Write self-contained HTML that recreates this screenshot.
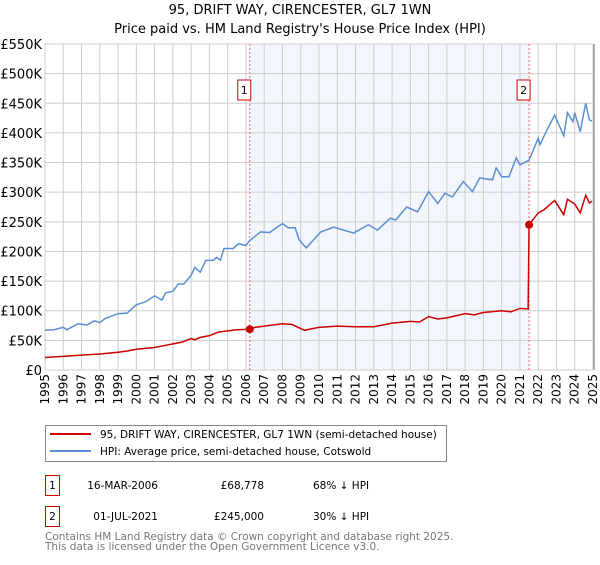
<!DOCTYPE html>
<html><head><meta charset="utf-8"><style>
body{margin:0;background:#fff;font-family:"Liberation Sans","DejaVu Sans",sans-serif;}
svg text{font-family:"DejaVu Sans","Liberation Sans",sans-serif;}
</style></head><body>
<svg id="c" width="600" height="560" viewBox="0 0 600 560">
<text x="300" y="14" text-anchor="middle" font-size="13">95, DRIFT WAY, CIRENCESTER, GL7 1WN</text>
<text x="300" y="33" text-anchor="middle" font-size="13">Price paid vs. HM Land Registry's House Price Index (HPI)</text>
<g id="plot"></g>
<g>
<rect x="45.5" y="425.5" width="401" height="36" fill="#fff" stroke="#888"/>
<line x1="50" y1="434" x2="91" y2="434" stroke="#cc0000" stroke-width="2"/>
<text x="100" y="438" font-size="10.5">95, DRIFT WAY, CIRENCESTER, GL7 1WN (semi-detached house)</text>
<line x1="50" y1="451" x2="91" y2="451" stroke="#5b8fd0" stroke-width="2"/>
<text x="100" y="455" font-size="10.5">HPI: Average price, semi-detached house, Cotswold</text>
</g>
<g font-size="10.5">
<rect x="45.5" y="475.5" width="14" height="20" fill="#fff" stroke="#cc0000"/>
<text x="52.5" y="489" text-anchor="middle">1</text>
<text x="158" y="489" text-anchor="end">16-MAR-2006</text>
<text x="264" y="489" text-anchor="end">£68,778</text>
<text x="313" y="489">68% ↓ HPI</text>
<rect x="45.5" y="506.5" width="14" height="20" fill="#fff" stroke="#cc0000"/>
<text x="52.5" y="520" text-anchor="middle">2</text>
<text x="158" y="520" text-anchor="end">01-JUL-2021</text>
<text x="264" y="520" text-anchor="end">£245,000</text>
<text x="313" y="520">30% ↓ HPI</text>
</g>
<text x="45" y="540" font-size="10.5" fill="#777">Contains HM Land Registry data © Crown copyright and database right 2025.</text>
<text x="45" y="550" font-size="10.5" fill="#777">This data is licensed under the Open Government Licence v3.0.</text>
</svg>
<script>
const hpiYears=[1995,1995.5,1996,1996.2,1996.8,1997.3,1997.7,1998,1998.3,1999,1999.5,2000,2000.5,2001,2001.4,2001.6,2002,2002.3,2002.6,2003,2003.2,2003.5,2003.8,2004.2,2004.4,2004.6,2004.8,2005.3,2005.6,2006,2006.2,2006.8,2007.3,2007.8,2008,2008.3,2008.7,2008.9,2009.3,2010.1,2010.8,2011.9,2012.7,2013.2,2013.9,2014.2,2014.8,2015.4,2016,2016.5,2016.9,2017.3,2017.9,2018.4,2018.8,2019.5,2019.7,2020,2020.4,2020.8,2021,2021.5,2022,2022.1,2022.4,2022.9,2023.4,2023.6,2023.9,2024.0,2024.3,2024.6,2024.8,2024.95];
const hpiValues=[67,68,72,68,78,76,83,80,87,95,96,110,115,125,118,130,133,145,145,160,173,165,185,185,190,185,205,205,213,210,218,233,232,243,247,240,240,220,206,233,241,231,245,236,256,253,275,267,301,281,298,292,318,301,324,321,341,326,326,358,346,354,391,380,400,430,395,434,419,434,402,450,422,420];
const redYears=[1995,1996,1997,1998,1999,1999.5,2000,2001,2001.5,2002,2002.5,2003,2003.2,2003.5,2004,2004.5,2005,2005.5,2006.2,2006.5,2007,2008,2008.5,2009,2009.2,2010,2011,2012,2013,2014,2015,2015.5,2016,2016.5,2017,2018,2018.5,2019,2020,2020.5,2021,2021.45,2021.5,2022,2022.3,2022.9,2023.4,2023.6,2024.0,2024.3,2024.6,2024.8,2024.95];
const redValues=[21,23,25,27,30,32,35,38,41,44,47,53,51,55,58,64,66,68,68.8,72,74,78,77,70,67,72,74,73,73,79,82,81,90,86,88,95,93,97,100,98,104,103,245,265,270,286,262,288,280,265,295,282,285];
const saleYears=[2006.21,2021.5];
const saleValues=[68.778,245];
const yTicks=[0,50,100,150,200,250,300,350,400,450,500,550];
const yTickLabels=["£0","£50K","£100K","£150K","£200K","£250K","£300K","£350K","£400K","£450K","£500K","£550K"];
const xTicks=[1995,1996,1997,1998,1999,2000,2001,2002,2003,2004,2005,2006,2007,2008,2009,2010,2011,2012,2013,2014,2015,2016,2017,2018,2019,2020,2021,2022,2023,2024,2025];

const X0=45,X1=593,Y0=370,Y1=44;
const xs=y=>X0+(y-1995)/30*(X1-X0);
const ys=v=>Y0-v/550*(Y0-Y1);
const NS="http://www.w3.org/2000/svg";
const g=document.getElementById('plot');
function mk(t,a){const e=document.createElementNS(NS,t);for(const k in a)e.setAttribute(k,a[k]);g.appendChild(e);return e;}
let e;
e=mk('rect',{x:xs(saleYears[0]),y:Y1,width:xs(saleYears[1])-xs(saleYears[0]),height:Y0-Y1,fill:'#eef3fc',opacity:0.7});


xTicks.forEach(t=>{
 e=mk('line',{x1:xs(t),x2:xs(t),y1:Y1,y2:Y0,stroke:'#ccc','stroke-width':1});
 
 
 e=mk('text',{x:0,y:0,'font-size':12,'text-anchor':'end',transform:`translate(${xs(t)+4},${Y0+4}) rotate(-90)`});
 e.textContent=t;
 
 
});
yTicks.forEach((t,i)=>{
 e=mk('line',{x1:X0,x2:X1,y1:ys(t),y2:ys(t),stroke:'#ccc','stroke-width':1});
 
 
 e=mk('text',{x:X0-3,y:ys(t)+5,'font-size':13,'text-anchor':'end'});
 e.textContent=yTickLabels[i];
 
 
});
e=mk('line',{x1:X1+1,x2:X1+1,y1:Y1,y2:Y0,stroke:'#999','stroke-width':1.5});


saleYears.forEach((s,i)=>{
 e=mk('line',{x1:xs(s),x2:xs(s),y1:Y1,y2:Y0,stroke:'#e66','stroke-width':1,'stroke-dasharray':'2,2'});
 
 
 e=mk('rect',{x:xs(s)-12,y:80,width:13,height:20,fill:'#fff',stroke:'#cc0000'});
 
 
 e=mk('text',{x:xs(s)-5.5,y:94,'font-size':11,'text-anchor':'middle'});
 e.textContent=String(i+1);
 
 
});
e=mk('polyline',{points:hpiYears.map((y,i)=>xs(y)+','+ys(hpiValues[i])).join(' '),fill:'none',stroke:'#5b8fd0','stroke-width':1.5});


e=mk('polyline',{points:redYears.map((y,i)=>xs(y)+','+ys(redValues[i])).join(' '),fill:'none',stroke:'#cc0000','stroke-width':1.5});


saleYears.forEach((s,i)=>{
 e=mk('circle',{cx:xs(s),cy:ys(saleValues[i]),r:4,fill:'#cc0000'});
 
 
});
</script>
</body></html>
